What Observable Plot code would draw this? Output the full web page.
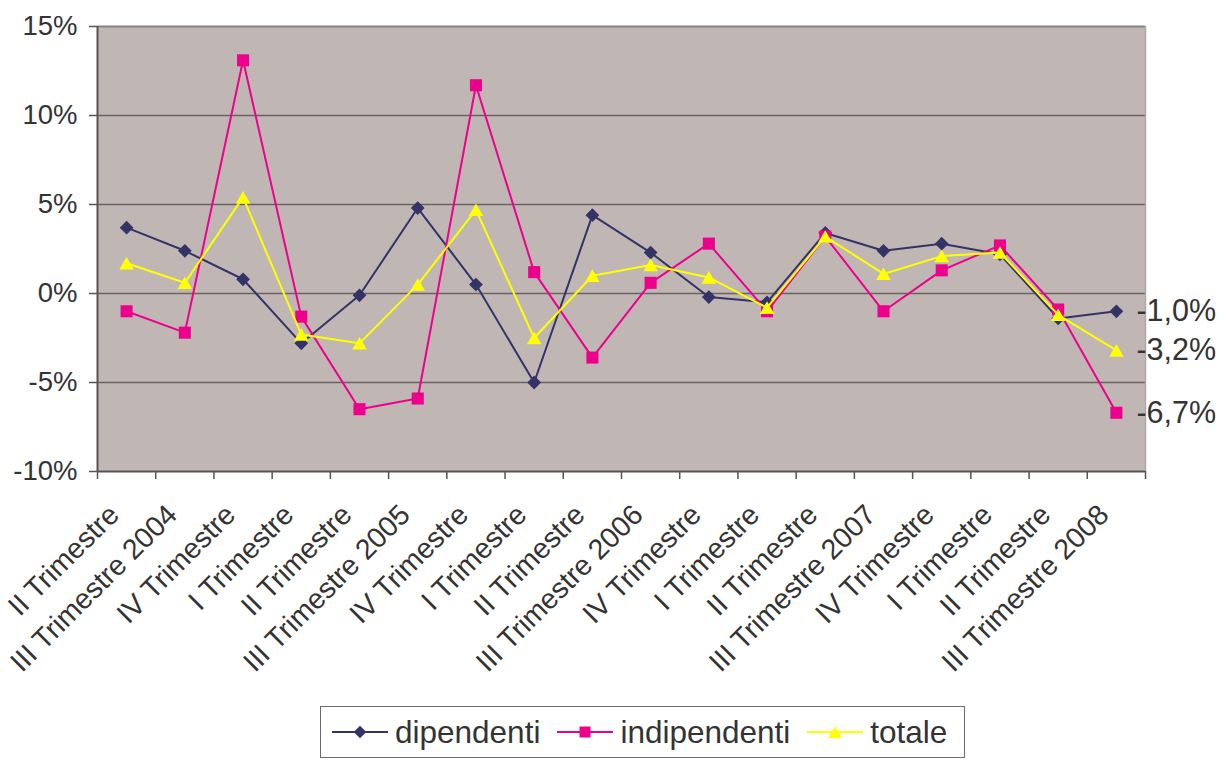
<!DOCTYPE html>
<html>
<head>
<meta charset="utf-8">
<script src="https://cdn.jsdelivr.net/npm/d3@7"></script>
<script src="https://cdn.jsdelivr.net/npm/@observablehq/plot@0.6"></script>
<style>
  body { margin: 0; background: #fff; font-family: "Liberation Sans", Arial, sans-serif; }
  #wrap { position: relative; width: 1221px; height: 767px; }
  #legend {
    position: absolute; left: 320px; top: 706px; width: 645px; height: 52px;
    box-sizing: border-box; border: 1.5px solid #6a6a6a; background: #fff;
    display: flex; align-items: center; padding-left: 11px;
    font-size: 31.5px; color: #333;
  }
  #legend .item { display: flex; align-items: center; margin-right: 17px; }
  #legend svg { margin-right: 7px; }
</style>
</head>
<body>
<div id="wrap">
  <div id="chart"></div>
  <div id="legend"></div>
</div>
<script>
const categories = [
  "II Trimestre", "III Trimestre 2004", "IV Trimestre",
  "I Trimestre", "II Trimestre", "III Trimestre 2005", "IV Trimestre",
  "I Trimestre", "II Trimestre", "III Trimestre 2006", "IV Trimestre",
  "I Trimestre", "II Trimestre", "III Trimestre 2007", "IV Trimestre",
  "I Trimestre", "II Trimestre", "III Trimestre 2008"
];
const dipendenti   = [3.7, 2.4, 0.8, -2.8, -0.1, 4.8, 0.5, -5.0, 4.4, 2.3, -0.2, -0.5, 3.4, 2.4, 2.8, 2.2, -1.4, -1.0];
const indipendenti = [-1.0, -2.2, 13.1, -1.3, -6.5, -5.9, 11.7, 1.2, -3.6, 0.6, 2.8, -1.0, 3.2, -1.0, 1.3, 2.7, -0.9, -6.7];
const totale       = [1.7, 0.6, 5.4, -2.3, -2.8, 0.5, 4.7, -2.5, 1.0, 1.6, 0.9, -0.8, 3.2, 1.1, 2.1, 2.3, -1.2, -3.2];
const seriesNames  = ["dipendenti", "indipendenti", "totale"];
const seriesColors = ["#333366", "#EC008C", "#FFFF00"];
const seriesSymbols = ["diamond2", "square", "triangle"];
const yTicks = [-10, -5, 0, 5, 10, 15];
const gridValues = [-5, 0, 5, 10];

const allSeries = [dipendenti, indipendenti, totale];
const rows = allSeries.map((vals, s) => vals.map((v, i) => ({serie: seriesNames[s], i, value: v})));
const lastRows = allSeries.map((vals, s) => ({serie: seriesNames[s], i: vals.length - 1, value: vals[vals.length - 1]}));
const fmt = v => v.toFixed(1).replace(".", ",") + "%";
const dotR = [6.2, 6.8, 5.4];
const dotDy = [0, 0, 2];

const seriesMarks = rows.flatMap((data, s) => [
  Plot.line(data, {x: d => d.i + 0.5, y: "value", stroke: seriesColors[s], strokeWidth: 2}),
  Plot.dot(data, {x: d => d.i + 0.5, y: "value", symbol: seriesSymbols[s], r: dotR[s], fill: seriesColors[s], stroke: "none", dy: dotDy[s]})
]);

const chart = Plot.plot({
  width: 1221,
  height: 700,
  marginLeft: 97,
  marginRight: 76,
  marginTop: 26,
  marginBottom: 229,
  x: {domain: [0, categories.length], label: null, axis: null},
  y: {domain: [-10, 15], label: null, axis: null},
  style: {fontFamily: "Liberation Sans, Arial, sans-serif", background: "#fff", overflow: "visible"},
  marks: [
    Plot.frame({fill: "#C0B7B5", stroke: "none"}),
    Plot.ruleY(gridValues, {stroke: "#6b6363", strokeWidth: 1.3}),
    Plot.ruleY([15], {stroke: "#8a8080", strokeWidth: 2}),
    Plot.ruleX([categories.length], {stroke: "#b0a8a8", strokeWidth: 1.5}),
    Plot.axisY({ticks: yTicks, tickSize: 8, tickPadding: 12, tickFormat: d => d + "%", fontSize: 27.5, fill: "#333", stroke: "#5a5252", strokeWidth: 1.5}),
    Plot.axisX({ticks: d3.range(categories.length + 1), tickSize: 8, tickFormat: () => "", stroke: "#5a5252", strokeWidth: 1.5}),
    Plot.ruleX([0], {stroke: "#5a5252", strokeWidth: 2}),
    Plot.ruleY([-10], {stroke: "#5a5252", strokeWidth: 2}),
    Plot.text(categories, {x: (d, i) => i + 0.5, frameAnchor: "bottom", text: d => d, rotate: -45, textAnchor: "end", dx: -6, dy: 45, fontSize: 28.5, fill: "#333"}),
    ...seriesMarks,
    Plot.text(lastRows, {x: d => d.i + 0.5, y: "value", text: d => fmt(d.value), textAnchor: "start", dx: 20, fontSize: 30.5, fill: "#333"})
  ]
});
document.getElementById("chart").appendChild(chart);

// legend
const legend = d3.select("#legend");
seriesNames.forEach((name, s) => {
  const item = legend.append("div").attr("class", "item");
  const svg = item.append("svg").attr("width", 56).attr("height", 20);
  svg.append("line").attr("x1", 0).attr("x2", 56).attr("y1", 10).attr("y2", 10)
    .attr("stroke", seriesColors[s]).attr("stroke-width", 2);
  const symType = [d3.symbolDiamond2, d3.symbolSquare, d3.symbolTriangle][s];
  const size = Math.PI * [5.6, 6.2, 5.0][s] ** 2;
  svg.append("path").attr("d", d3.symbol(symType, size)())
    .attr("transform", `translate(28,${s === 2 ? 12 : 10})`).attr("fill", seriesColors[s]);
  item.append("span").text(name);
});
</script>
</body>
</html>
